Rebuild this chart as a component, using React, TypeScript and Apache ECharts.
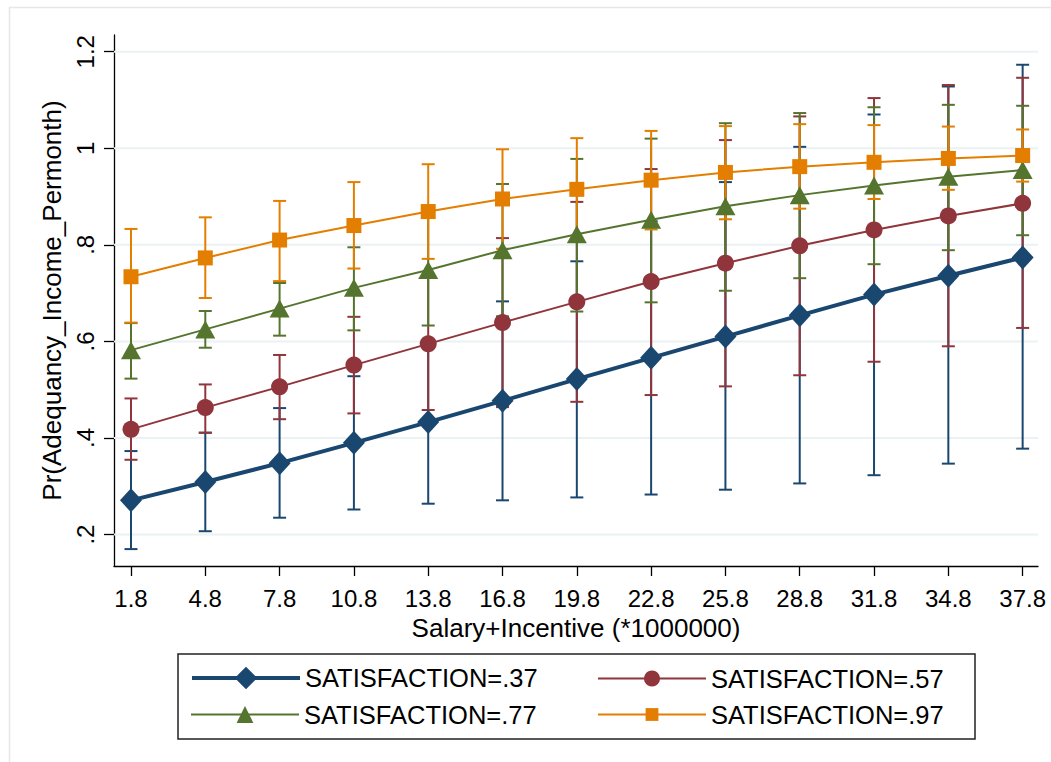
import React, { useEffect, useRef } from 'react';
import * as echarts from 'echarts';

const xValues = [1.8, 4.8, 7.8, 10.8, 13.8, 16.8, 19.8, 22.8, 25.8, 28.8, 31.8, 34.8, 37.8];
const xTickLabels = ['1.8', '4.8', '7.8', '10.8', '13.8', '16.8', '19.8', '22.8', '25.8', '28.8', '31.8', '34.8', '37.8'];
const yTicks = [0.2, 0.4, 0.6, 0.8, 1.0, 1.2];
const yTickLabels = ['.2', '.4', '.6', '.8', '1', '1.2'];

const seriesNames = ['SATISFACTION=.37', 'SATISFACTION=.57', 'SATISFACTION=.77', 'SATISFACTION=.97'];

const s37Mean = [0.271, 0.309, 0.348, 0.390, 0.433, 0.477, 0.522, 0.566, 0.610, 0.654, 0.697, 0.736, 0.774];
const s37Lower = [0.170, 0.207, 0.235, 0.252, 0.264, 0.271, 0.277, 0.283, 0.293, 0.306, 0.323, 0.347, 0.378];
const s37Upper = [0.373, 0.411, 0.462, 0.528, 0.602, 0.683, 0.766, 0.849, 0.930, 1.003, 1.070, 1.128, 1.173];

const s57Mean = [0.418, 0.463, 0.506, 0.551, 0.595, 0.639, 0.682, 0.724, 0.762, 0.798, 0.831, 0.860, 0.886];
const s57Lower = [0.355, 0.411, 0.439, 0.451, 0.458, 0.464, 0.475, 0.489, 0.507, 0.530, 0.558, 0.590, 0.628];
const s57Upper = [0.482, 0.511, 0.572, 0.651, 0.734, 0.814, 0.889, 0.957, 1.017, 1.066, 1.104, 1.131, 1.146];

const s77Mean = [0.582, 0.625, 0.668, 0.711, 0.748, 0.789, 0.822, 0.852, 0.880, 0.903, 0.923, 0.941, 0.955];
const s77Lower = [0.523, 0.587, 0.612, 0.623, 0.633, 0.652, 0.662, 0.681, 0.705, 0.731, 0.760, 0.789, 0.820];
const s77Upper = [0.638, 0.663, 0.721, 0.795, 0.863, 0.926, 0.978, 1.020, 1.052, 1.073, 1.085, 1.090, 1.088];

const s97Mean = [0.734, 0.773, 0.810, 0.840, 0.869, 0.895, 0.915, 0.934, 0.950, 0.962, 0.971, 0.979, 0.985];
const s97Lower = [0.639, 0.690, 0.725, 0.751, 0.771, 0.792, 0.809, 0.832, 0.853, 0.875, 0.895, 0.914, 0.931];
const s97Upper = [0.833, 0.857, 0.891, 0.930, 0.967, 0.998, 1.021, 1.036, 1.046, 1.050, 1.048, 1.045, 1.039];

const FONT = '"Liberation Sans", Arial, Helvetica, sans-serif';

export default function App() {
  const ref = useRef<HTMLDivElement>(null);

  useEffect(() => {
    document.body.style.margin = '0';
    if (!ref.current) return;
    const chart = echarts.init(ref.current, undefined, { renderer: 'svg' });

    const colors = ['#1a476f', '#90353b', '#55752f', '#e37e00'];
    const means = [s37Mean, s57Mean, s77Mean, s97Mean];
    const lowers = [s37Lower, s57Lower, s77Lower, s97Lower];
    const uppers = [s37Upper, s57Upper, s77Upper, s97Upper];
    const symbols = ['diamond', 'circle', 'triangle', 'rect'];
    const symbolSizes: any[] = [[22, 24], 17, [20, 18], 15];
    const lineWidths = [4, 2, 2, 2];

    const gridSeries: any = {
      type: 'custom',
      name: 'grid',
      silent: true,
      z: 1,
      data: yTicks.map((v) => [xValues[0], v]),
      encode: { x: 0, y: 1 },
      renderItem: (params: any, api: any) => {
        const cs = params.coordSys;
        const y = api.coord([xValues[0], api.value(1)])[1];
        return {
          type: 'line',
          shape: { x1: cs.x, y1: y, x2: cs.x + cs.width, y2: y },
          style: { stroke: '#eaf2f3', lineWidth: 2 },
        };
      },
    };

    const ciSeries = colors.map((color, k) => ({
      type: 'custom',
      name: 'ci' + k,
      silent: true,
      z: 2,
      data: xValues.map((x, i) => [x, lowers[k][i], uppers[k][i]]),
      encode: { x: 0, y: [1, 2] },
      renderItem: (params: any, api: any) => {
        const x = api.value(0);
        const p1 = api.coord([x, api.value(1)]);
        const p2 = api.coord([x, api.value(2)]);
        const hw = 6.5;
        const st = { stroke: color, lineWidth: 2 };
        return {
          type: 'group',
          children: [
            { type: 'line', shape: { x1: p1[0], y1: p1[1], x2: p2[0], y2: p2[1] }, style: st },
            { type: 'line', shape: { x1: p1[0] - hw, y1: p1[1], x2: p1[0] + hw, y2: p1[1] }, style: st },
            { type: 'line', shape: { x1: p2[0] - hw, y1: p2[1], x2: p2[0] + hw, y2: p2[1] }, style: st },
          ],
        };
      },
    }));

    const lineSeries = colors.map((color, k) => ({
      type: 'line',
      name: seriesNames[k],
      z: 3,
      data: xValues.map((x, i) => [x, means[k][i]]),
      symbol: symbols[k],
      symbolSize: symbolSizes[k],
      showAllSymbol: true,
      lineStyle: { color, width: lineWidths[k] },
      itemStyle: { color, borderWidth: 0 },
      emphasis: { disabled: true },
    }));

    // one legend per entry so each icon can have its own marker size
    const legendLefts = [190, 597, 190, 597];
    const rowCenters = [679, 679, 715, 715];
    const legendItemHeights = [28, 20, 21, 16];
    const textBoxHeight = 27;
    const legends = seriesNames.map((name, k) => ({
      left: legendLefts[k],
      top: rowCenters[k] - Math.max(legendItemHeights[k], textBoxHeight) / 2,
      padding: 0,
      itemWidth: 108,
      itemHeight: legendItemHeights[k],
      selectedMode: false,
      lineStyle: { width: lineWidths[k] },
      textStyle: { fontSize: 25.5, color: '#000', fontFamily: FONT },
      data: [name],
    }));

    chart.setOption({
      animation: false,
      backgroundColor: '#fff',
      textStyle: { fontFamily: FONT },
      grid: { left: 114, right: 13, top: 35, bottom: 196, containLabel: false, outerBoundsMode: 'none' },
      xAxis: {
        type: 'value',
        min: 1.114,
        max: 38.42,
        name: 'Salary+Incentive (*1000000)',
        nameLocation: 'middle',
        nameGap: 42,
        nameTextStyle: { fontSize: 26, color: '#000', fontFamily: FONT },
        axisLine: { show: true, onZero: false, lineStyle: { color: '#000', width: 1.3 } },
        axisTick: { show: true, customValues: xValues, length: 10, lineStyle: { color: '#000', width: 1.3 } },
        axisLabel: {
          customValues: xValues,
          margin: 20,
          fontSize: 24,
          color: '#000',
          fontFamily: FONT,
          formatter: (v: number) => {
            let best = 0;
            xValues.forEach((x, i) => { if (Math.abs(x - v) < Math.abs(xValues[best] - v)) best = i; });
            return xTickLabels[best];
          },
        },
        splitLine: { show: false },
      },
      yAxis: {
        type: 'value',
        min: 0.135,
        max: 1.2346,
        name: 'Pr(Adequancy_Income_Permonth)',
        nameLocation: 'middle',
        nameGap: 46,
        nameTextStyle: { fontSize: 26, color: '#000', fontFamily: FONT },
        axisLine: { show: true, onZero: false, lineStyle: { color: '#000', width: 1.3 } },
        axisTick: { show: true, customValues: yTicks, length: 10, lineStyle: { color: '#000', width: 1.3 } },
        axisLabel: {
          customValues: yTicks,
          rotate: 90,
          margin: 17,
          fontSize: 24,
          color: '#000',
          fontFamily: FONT,
          formatter: (v: number) => {
            let best = 0;
            yTicks.forEach((t, i) => { if (Math.abs(t - v) < Math.abs(yTicks[best] - v)) best = i; });
            return yTickLabels[best];
          },
        },
        splitLine: { show: false },
      },
      legend: legends,
      graphic: [
        {
          type: 'rect',
          silent: true,
          shape: { x: 9.5, y: 7.5, width: 1100, height: 800 },
          style: { fill: 'none', stroke: '#e6e6e6', lineWidth: 1.5 },
          z: -10,
        },
        {
          type: 'rect',
          silent: true,
          shape: { x: 178, y: 654, width: 797, height: 85 },
          style: { fill: 'none', stroke: '#222', lineWidth: 1.5 },
        },
      ],
      series: [gridSeries, ...ciSeries, ...lineSeries],
    });

    return () => chart.dispose();
  }, []);

  return <div ref={ref} style={{ width: 1051, height: 762 }} />;
}
